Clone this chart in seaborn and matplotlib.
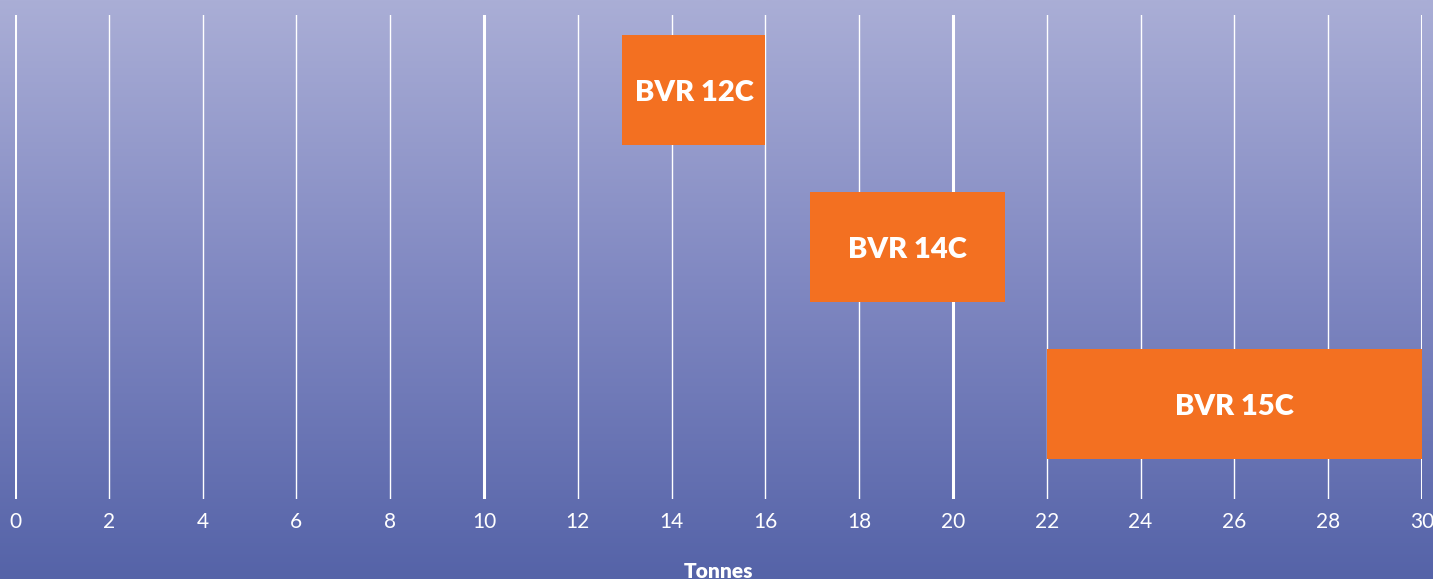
import numpy as np
import pandas as pd
import matplotlib
matplotlib.use("Agg")
import matplotlib.pyplot as plt
from matplotlib.colors import LinearSegmentedColormap
import seaborn as sns

# data
models = ["BVR 12C", "BVR 14C", "BVR 15C"]
start_t = [12.95, 16.95, 22]
end_t = [16, 21.1, 30]
ticks = list(range(0, 31, 2))
major_ticks = [0, 10, 20, 30]

df = pd.DataFrame({"model": models, "start": start_t, "end": end_t})
df["length"] = df["end"] - df["start"]

orange = "#f37021"

fig = plt.figure(figsize=(14.33, 5.79), dpi=100)

# gradient background
bg = fig.add_axes([0, 0, 1, 1])
grad = np.linspace(0, 1, 256).reshape(-1, 1)
cmap = LinearSegmentedColormap.from_list("bg", ["#aaaed6", "#7f87c1", "#5563a8"])
bg.imshow(grad, aspect="auto", cmap=cmap, extent=[0, 1, 0, 1], origin="upper")
bg.set_axis_off()

ax = fig.add_axes([15 / 1433, 80 / 579, 1407 / 1433, 484 / 579])
ax.patch.set_alpha(0)

for t in ticks:
    lw = 2.2 if t in major_ticks else 1.0
    ax.axvline(t, color="white", lw=lw, zorder=0)

sns.barplot(data=df, x="length", y="model", left=df["start"], color=orange,
            width=0.70, saturation=1, orient="h", ax=ax, zorder=2)

for i, row in df.iterrows():
    ax.text(row["start"] + row["length"] / 2, i, row["model"], color="white",
            ha="center", va="center_baseline", fontsize=21, fontweight="heavy",
            family="Lato", zorder=3)

ax.set_xlim(0, 30)
ax.set_ylim(2.605, -0.478)
ax.set_xticks(ticks)
ax.set_xticklabels([str(t) for t in ticks], color="white", fontsize=15, family="Lato")
ax.set_yticks([])
ax.tick_params(axis="x", length=0, pad=9)
ax.set_xlabel("Tonnes", color="white", fontsize=15, fontweight="heavy",
              family="Lato", labelpad=22)
ax.set_ylabel("")
for s in ax.spines.values():
    s.set_visible(False)

fig.savefig("out.png", dpi=100)
